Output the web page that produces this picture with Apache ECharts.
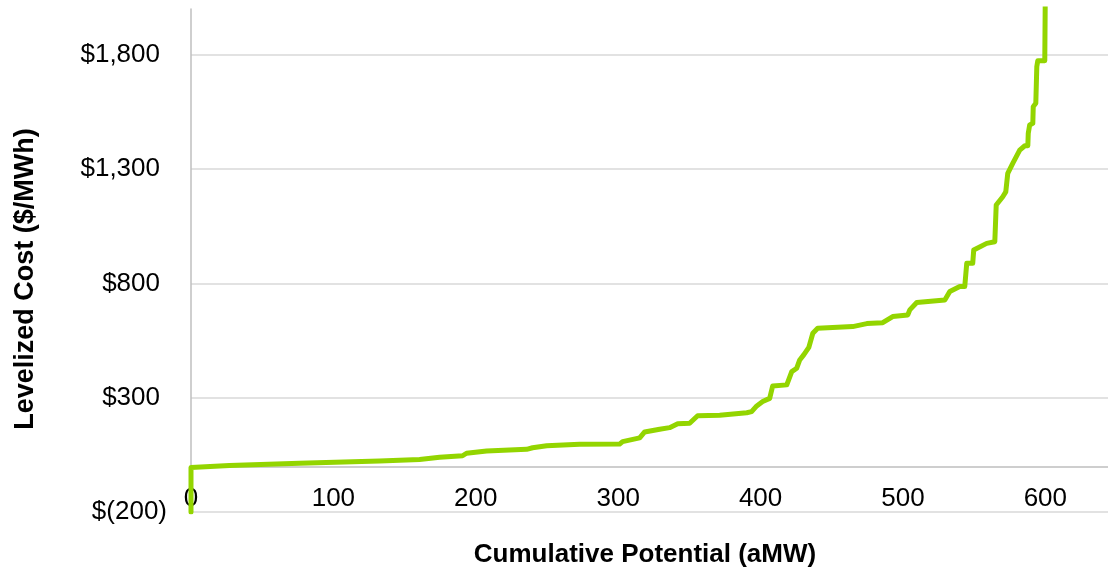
<!DOCTYPE html>
<html>
<head>
<meta charset="utf-8">
<script src="https://cdn.jsdelivr.net/npm/echarts@6/dist/echarts.min.js"></script>
<style>
html,body{margin:0;padding:0;background:#fff;}
#chart{width:1108px;height:570px;}
</style>
</head>
<body>
<div id="chart"></div>
<script>
// Cumulative potential (aMW) and levelized cost ($/MWh)
var potential = [0, 0, 27.0, 76.2, 132.4, 160.5, 174.6, 190.7, 193.5, 207.6, 235.7, 239.9, 249.8, 272.9, 301.0, 303.1, 315.1, 318.6, 329.1, 336.1, 341.8, 350.2, 355.8, 371.3, 390.3, 393.7, 397.3, 401.5, 406.4, 408.5, 418.4, 421.9, 425.4, 427.5, 430.3, 433.9, 436.7, 440.1, 464.7, 474.6, 485.8, 492.8, 503.4, 504.8, 509.7, 529.4, 532.9, 539.9, 543.4, 544.1, 544.8, 549.0, 549.7, 558.8, 564.5, 565.5, 570.1, 572.2, 573.6, 577.1, 582.0, 585.6, 587.7, 588.0, 589.0, 591.2, 591.5, 593.3, 594.0, 594.7, 599.6, 600.0];
var cost = [-200, -5, 3, 13, 23, 30, 39, 46, 57, 67, 74, 81, 90, 96, 97, 108, 124, 150, 162, 169, 186, 188, 221, 223, 234, 239, 264, 283, 297, 351, 356, 414, 429, 465, 487, 520, 582, 604, 611, 624, 628, 655, 662, 684, 716, 727, 764, 786, 786, 837, 888, 888, 946, 975, 982, 1143, 1179, 1200, 1281, 1325, 1383, 1402, 1402, 1456, 1493, 1500, 1573, 1588, 1748, 1774, 1774, 2100];
var yTicks = [-200, 300, 800, 1300, 1800];
var xTicks = [0, 100, 200, 300, 400, 500, 600];
var xTitle = 'Cumulative Potential (aMW)';
var yTitle = 'Levelized Cost ($/MWh)';

var FONT = '"Liberation Sans", Arial, sans-serif';
var points = potential.map(function (x, i) { return [x, cost[i]]; });

function fmtNum(n) {
  return String(n).replace(/\B(?=(\d{3})+(?!\d))/g, ',');
}

var chart = echarts.init(document.getElementById('chart'), null, {renderer: 'canvas'});
chart.setOption({
  animation: false,
  backgroundColor: '#ffffff',
  grid: {left: 191, right: 0, top: 9, bottom: 58, containLabel: false, outerBoundsMode: 'none'},
  xAxis: {
    type: 'value',
    min: xTicks[0],
    max: 644,
    interval: 100,
    name: xTitle,
    nameLocation: 'middle',
    nameGap: 30,
    nameTextStyle: {fontFamily: FONT, fontSize: 26, fontWeight: 'bold', color: '#000', padding: [0, 9, 0, 0]},
    axisLine: {show: true, onZero: true, lineStyle: {color: '#bfbfbf', width: 1.5}},
    axisTick: {show: false},
    splitLine: {show: false},
    axisLabel: {
      inside: true,
      margin: 0,
      showMaxLabel: false,
      fontFamily: FONT, fontSize: 26, color: '#000',
      formatter: function (v) { return xTicks.indexOf(v) >= 0 ? String(v) : ''; }
    }
  },
  yAxis: {
    type: 'value',
    min: yTicks[0],
    max: 2000,
    interval: 500,
    axisLine: {show: true, lineStyle: {color: '#bfbfbf', width: 1.5}},
    axisTick: {show: false},
    splitLine: {show: true, showMaxLine: false, lineStyle: {color: '#d9d9d9', width: 1.5}},
    axisLabel: {
      margin: 24,
      showMaxLabel: false,
      formatter: function (v) {
        if (yTicks.indexOf(v) < 0) return '';
        if (v < 0) return '{n|$(' + fmtNum(-v) + ')}';
        return '{p|$' + fmtNum(v) + '}';
      },
      rich: {
        n: {fontFamily: FONT, fontSize: 26, color: '#000'},
        p: {fontFamily: FONT, fontSize: 26, color: '#000', padding: [0, 7, 0, 0]}
      }
    }
  },
  graphic: [{
    type: 'text',
    x: 26,
    y: 279,
    rotation: Math.PI / 2,
    style: {
      text: yTitle,
      font: 'bold 27px ' + FONT,
      fill: '#000',
      textAlign: 'center',
      textVerticalAlign: 'middle',
      align: 'center',
      verticalAlign: 'middle'
    }
  }],
  series: [{
    type: 'line',
    data: points,
    showSymbol: false,
    symbol: 'none',
    clip: true,
    lineStyle: {color: '#93d500', width: 5, join: 'round', cap: 'round'},
    itemStyle: {color: '#93d500'}
  }]
});
</script>
</body>
</html>
